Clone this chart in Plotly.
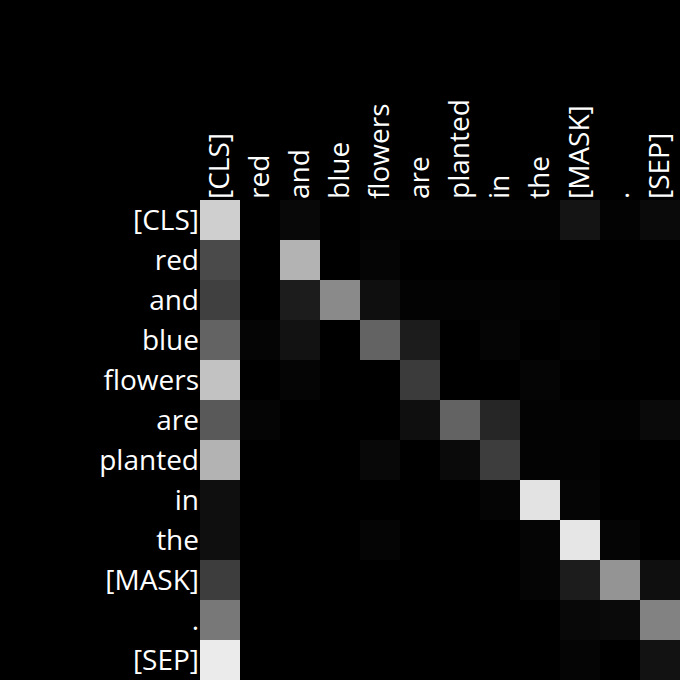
import plotly.graph_objects as go

tokens = ["[CLS]", "red", "and", "blue", "flowers", "are", "planted", "in", "the", "[MASK]", ".", "[SEP]"]

# attention weights (rows = query token, cols = key token), read from grey levels
row_cls     = [0.81, 0.00, 0.03, 0.00, 0.01, 0.01, 0.01, 0.01, 0.01, 0.08, 0.01, 0.04]
row_red     = [0.29, 0.00, 0.70, 0.00, 0.02, 0.00, 0.00, 0.00, 0.00, 0.00, 0.00, 0.00]
row_and     = [0.25, 0.00, 0.11, 0.54, 0.06, 0.01, 0.01, 0.01, 0.01, 0.00, 0.00, 0.00]
row_blue    = [0.39, 0.02, 0.07, 0.00, 0.39, 0.11, 0.00, 0.02, 0.00, 0.01, 0.00, 0.00]
row_flowers = [0.76, 0.00, 0.02, 0.00, 0.00, 0.23, 0.00, 0.00, 0.02, 0.00, 0.00, 0.00]
row_are     = [0.35, 0.02, 0.00, 0.00, 0.00, 0.06, 0.39, 0.15, 0.01, 0.01, 0.01, 0.04]
row_planted = [0.70, 0.00, 0.00, 0.00, 0.03, 0.00, 0.04, 0.24, 0.01, 0.01, 0.00, 0.00]
row_in      = [0.06, 0.00, 0.00, 0.00, 0.00, 0.00, 0.00, 0.02, 0.89, 0.02, 0.00, 0.00]
row_the     = [0.06, 0.00, 0.00, 0.00, 0.02, 0.00, 0.00, 0.00, 0.02, 0.90, 0.02, 0.00]
row_mask    = [0.24, 0.00, 0.00, 0.00, 0.00, 0.00, 0.00, 0.00, 0.02, 0.11, 0.58, 0.06]
row_dot     = [0.47, 0.00, 0.00, 0.00, 0.00, 0.00, 0.00, 0.00, 0.00, 0.03, 0.04, 0.51]
row_sep     = [0.92, 0.00, 0.00, 0.00, 0.00, 0.00, 0.00, 0.00, 0.00, 0.02, 0.00, 0.07]

z = [row_cls, row_red, row_and, row_blue, row_flowers, row_are,
     row_planted, row_in, row_the, row_mask, row_dot, row_sep]

fig = go.Figure(go.Heatmap(
    z=z, x=tokens, y=tokens,
    colorscale=[[0, "black"], [1, "white"]],
    zmin=0, zmax=1, showscale=False,
))

fig.update_layout(
    width=680, height=680,
    margin=dict(l=200, r=0, t=200, b=0),
    paper_bgcolor="black", plot_bgcolor="black",
    font=dict(family="Open Sans", size=28, color="white"),
)
fig.update_xaxes(side="top", tickangle=-90, showgrid=False, zeroline=False,
                 ticks="", ticklen=0, type="category", showline=False)
fig.update_yaxes(autorange="reversed", showgrid=False, zeroline=False,
                 ticks="", ticklen=0, type="category", showline=False)

fig.write_html("out.html")
